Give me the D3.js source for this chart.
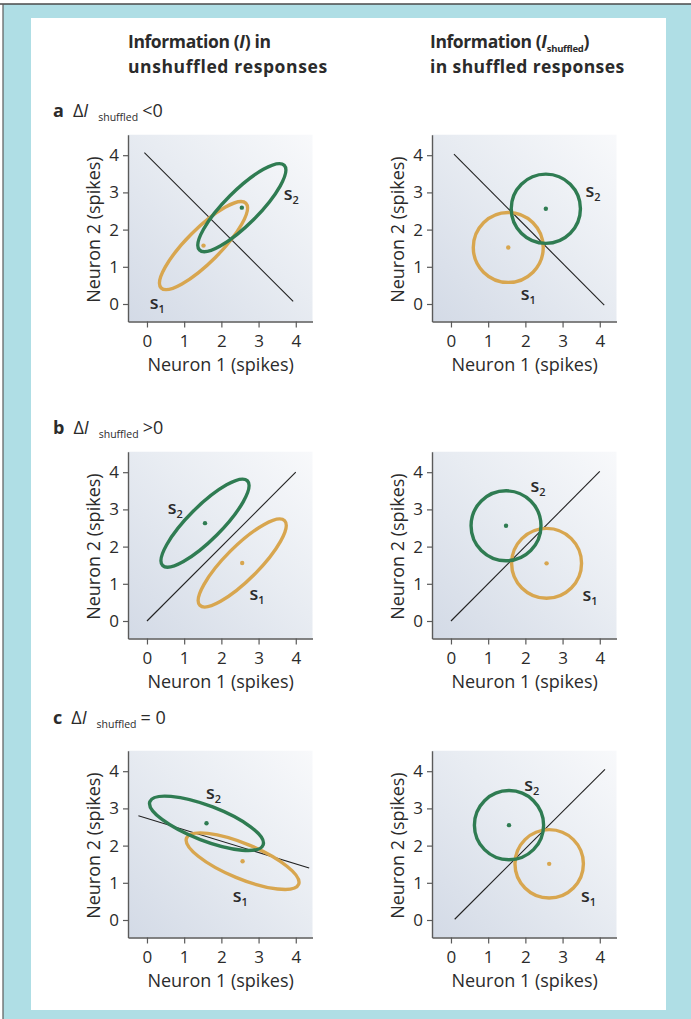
<!DOCTYPE html>
<html>
<head>
<meta charset="utf-8">
<script src="https://cdn.jsdelivr.net/npm/d3@7/dist/d3.min.js"></script>
<style>
  html, body { margin: 0; padding: 0; background: #fff; }
  svg { display: block; }
  text { font-family: "Open Sans", "Noto Sans", sans-serif; fill: #2b2b2b; }
</style>
</head>
<body>
<svg id="fig" width="691" height="1019"></svg>
<script>
// ---- data (spike-count space, both axes in spikes) ----
const ticks = [0, 1, 2, 3, 4];
const panelIds = ["a", "b", "c"];
const conditionSigns = ["<0", ">0", "= 0"];

// Unshuffled response distributions: [meanX, meanY, semiMajor, semiMinor, tiltDeg]
const ellipseS1 = [[1.52, 1.57, 1.61, 0.45, 45], [2.56, 1.56, 1.61, 0.45, 45], [2.57, 1.58, 1.63, 0.47, -22.5]];
const ellipseS2 = [[2.55, 2.59, 1.61, 0.45, 45], [1.56, 2.63, 1.61, 0.45, 45], [1.60, 2.60, 1.63, 0.47, -21]];

// Shuffled (independent) distributions: [meanX, meanY, radius]
const circleS1 = [[1.54, 1.52, 0.94], [2.57, 1.55, 0.94], [2.64, 1.51, 0.92]];
const circleS2 = [[2.55, 2.56, 0.93], [1.48, 2.56, 0.94], [1.56, 2.55, 0.93]];

// Decision boundaries: [x1, y1, x2, y2]
const boundaryUnshuffled = [[-0.07, 4.07, 3.93, 0.07], [0, 0, 4, 4], [-0.23, 2.80, 4.36, 1.40]];
const boundaryShuffled = [[0.08, 4.03, 4.12, -0.03], [0, 0, 4, 4.02], [0.10, 0.02, 4.14, 4.05]];

// Stimulus label anchors [x, y]
const labelS1Unshuffled = [[0.28, 0.0], [2.96, 0.70], [2.51, 0.63]];
const labelS2Unshuffled = [[3.88, 2.92], [0.76, 3.0], [1.79, 3.38]];
const labelS1Shuffled = [[2.08, 0.24], [3.74, 0.67], [3.70, 0.61]];
const labelS2Shuffled = [[3.82, 3.0], [2.34, 3.6], [2.17, 3.59]];

// ---- layout ----
const W = 691, H = 1019;
const unit = 37.2;                 // px per spike
const xDomain = [-0.51, 4.45];
const yDomain = [-0.47, 4.55];
const colAxisX = [128, 432];       // y-axis position of each column
const rowZeroY = [304, 621, 920];  // pixel row of y = 0 for each panel row
const green = "#2f7c52", orange = "#d8a64f";

const svg = d3.select("#fig");

// page frame
svg.append("rect").attr("width", W).attr("height", H).attr("fill", "#ffffff");
svg.append("rect").attr("x", 3).attr("y", 4).attr("width", W - 3).attr("height", H - 4).attr("fill", "#afdee5");
svg.append("line").attr("x1", 0).attr("x2", W).attr("y1", 4).attr("y2", 4).attr("stroke", "#4a4a4a").attr("stroke-width", 1.5);
svg.append("line").attr("x1", 3).attr("x2", 3).attr("y1", 4).attr("y2", H).attr("stroke", "#5a5a5a").attr("stroke-width", 1.2);
svg.append("rect").attr("x", 31).attr("y", 18).attr("width", 635).attr("height", 992).attr("fill", "#ffffff");

// plot background gradient
const defs = svg.append("defs");
const grad = defs.append("linearGradient").attr("id", "plotbg")
  .attr("x1", 0).attr("y1", 1).attr("x2", 1).attr("y2", 0);
grad.append("stop").attr("offset", 0).attr("stop-color", "#d3dae6");
grad.append("stop").attr("offset", 0.55).attr("stop-color", "#e8ecf2");
grad.append("stop").attr("offset", 1).attr("stop-color", "#f8f9fb");

// column headings
function heading(x, lines) {
  lines.forEach((parts, i) => {
    const t = svg.append("text").attr("x", x).attr("y", 48 + i * 25)
      .attr("font-size", 17.5).attr("font-weight", 700);
    parts.forEach(p => {
      const ts = t.append("tspan").text(p.t);
      if (p.it) ts.attr("font-style", "italic");
      if (p.sub) ts.attr("font-size", 9.5).attr("dy", 4);
      if (p.up) ts.attr("dy", -4);
      if (p.ls !== undefined) ts.attr("letter-spacing", p.ls);
    });
  });
}
heading(128, [[{t: "Information (", ls: -0.4}, {t: "I", it: true}, {t: ") in", ls: -0.4}],
              [{t: "unshuffled responses", ls: 0.6}]]);
heading(430, [[{t: "Information (", ls: -0.4}, {t: "I", it: true}, {t: "shuffled", sub: true, ls: -0.3}, {t: ")", up: true}],
              [{t: "in shuffled responses", ls: 0.4}]]);

// row labels
const rowLabelY = [117, 434, 724];
panelIds.forEach((id, r) => {
  const t = svg.append("text").attr("x", 53).attr("y", rowLabelY[r]).attr("font-size", 18);
  t.append("tspan").text(id).attr("font-weight", 700);
  t.append("tspan").text("\u0394").attr("dx", 9);
  t.append("tspan").text("I").attr("font-style", "italic");
  t.append("tspan").text("shuffled").attr("font-size", 10.5).attr("dx", 10).attr("dy", 4);
  t.append("tspan").text(conditionSigns[r]).attr("dx", 4).attr("dy", -4);
});

function stimLabel(g, x, y, pos, idx) {
  const t = g.append("text").attr("x", x(pos[0])).attr("y", y(pos[1]) + 5)
    .attr("text-anchor", "middle").attr("font-size", 18).attr("font-weight", 600).attr("fill", "#2a2a2a");
  t.append("tspan").text("s");
  t.append("tspan").text(idx).attr("font-size", 11).attr("dy", 4);
}

function drawPanel(row, col) {
  const ax = colAxisX[col], y0 = rowZeroY[row];
  const x = d3.scaleLinear().domain(xDomain)
    .range([ax, ax + (xDomain[1] - xDomain[0]) * unit]);
  const y = d3.scaleLinear().domain(yDomain)
    .range([y0 - yDomain[0] * unit, y0 - yDomain[1] * unit]);
  const g = svg.append("g");

  g.append("rect").attr("x", x(xDomain[0])).attr("y", y(yDomain[1]))
    .attr("width", x(xDomain[1]) - x(xDomain[0]))
    .attr("height", y(yDomain[0]) - y(yDomain[1]))
    .attr("fill", "url(#plotbg)");

  // decision boundary
  const b = (col === 0 ? boundaryUnshuffled : boundaryShuffled)[row];
  g.append("line").attr("x1", x(b[0])).attr("y1", y(b[1])).attr("x2", x(b[2])).attr("y2", y(b[3]))
    .attr("stroke", "#222").attr("stroke-width", 1.1);

  // response distributions
  const shapes = col === 0
    ? [[ellipseS1[row], orange], [ellipseS2[row], green]]
    : [[circleS1[row], orange], [circleS2[row], green]];
  shapes.forEach(([d, c]) => {
    if (col === 0) {
      g.append("ellipse")
        .attr("cx", 0).attr("cy", 0)
        .attr("rx", x(d[2]) - x(0)).attr("ry", x(d[3]) - x(0))
        .attr("transform", `translate(${x(d[0])},${y(d[1])}) rotate(${-d[4]})`)
        .attr("fill", "none").attr("stroke", c).attr("stroke-width", 3.4);
    } else {
      g.append("circle").attr("cx", x(d[0])).attr("cy", y(d[1])).attr("r", x(d[2]) - x(0))
        .attr("fill", "none").attr("stroke", c).attr("stroke-width", 3.4);
    }
  });
  shapes.forEach(([d, c]) => {
    g.append("circle").attr("cx", x(d[0])).attr("cy", y(d[1])).attr("r", 2.2).attr("fill", c);
  });

  // labels
  stimLabel(g, x, y, (col === 0 ? labelS1Unshuffled : labelS1Shuffled)[row], "1");
  stimLabel(g, x, y, (col === 0 ? labelS2Unshuffled : labelS2Shuffled)[row], "2");

  // axes
  const fmt = d3.format("d");
  const xAxis = g.append("g").attr("transform", `translate(0,${y(yDomain[0])})`)
    .call(d3.axisBottom(x).tickValues(ticks).tickFormat(fmt).tickSize(6).tickSizeOuter(0).tickPadding(7));
  const yAxis = g.append("g").attr("transform", `translate(${x(xDomain[0])},0)`)
    .call(d3.axisLeft(y).tickValues(ticks).tickFormat(fmt).tickSize(5).tickSizeOuter(0).tickPadding(4));
  [xAxis, yAxis].forEach(a => {
    a.select(".domain").attr("stroke", "#5a5a5a").attr("stroke-width", 1.4);
    a.selectAll(".tick line").attr("stroke", "#5a5a5a").attr("stroke-width", 1.2);
    a.selectAll(".tick text").attr("font-size", 17).attr("fill", "#333")
      .attr("font-family", "'Open Sans', sans-serif");
  });

  g.append("text").attr("x", x(1.98)).attr("y", y(yDomain[0]) + 50)
    .attr("text-anchor", "middle").attr("font-size", 18).text("Neuron 1 (spikes)");
  g.append("text")
    .attr("transform", `translate(${x(xDomain[0]) - 28},${y(2)}) rotate(-90)`)
    .attr("text-anchor", "middle").attr("font-size", 18).text("Neuron 2 (spikes)");
}

for (let r = 0; r < 3; r++) for (let c = 0; c < 2; c++) drawPanel(r, c);
</script>
</body>
</html>
